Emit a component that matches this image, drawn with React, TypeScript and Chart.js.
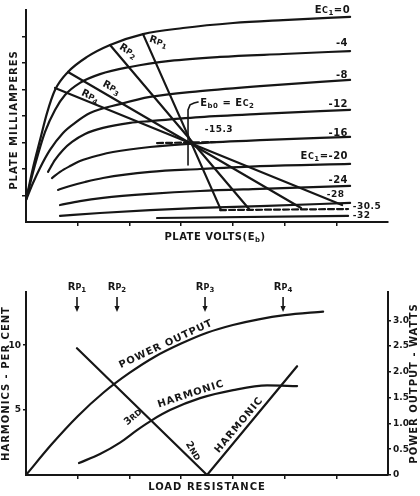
import React, { useEffect, useRef } from 'react';
import { Chart, registerables } from 'chart.js';
Chart.register(...registerables);

// ---------------- Top panel: plate characteristics (grid units: x = plate volts, y = plate mA)
const plateTicksX = [1, 2, 3, 4, 5, 6];
const plateTicksY = [1, 2, 3, 4, 5, 6, 7];

const ec0 = [[0, 0.83], [0.135, 2.04], [0.271, 3.09], [0.406, 4.11], [0.561, 4.98], [0.812, 5.66], [1.18, 6.23], [1.625, 6.68], [2.263, 7.09], [3.037, 7.32], [4.004, 7.51], [4.971, 7.62], [6.267, 7.74]];
const ecM4 = [[0, 0.83], [0.174, 2.15], [0.368, 3.4], [0.561, 4.23], [0.754, 4.79], [1.044, 5.25], [1.431, 5.58], [2.012, 5.85], [2.785, 6.08], [3.752, 6.23], [4.971, 6.34], [6.267, 6.45]];
const ecM8 = [[0, 0.83], [0.135, 1.47], [0.271, 2.04], [0.464, 2.72], [0.716, 3.36], [0.948, 3.74], [1.238, 4.11], [1.818, 4.45], [2.398, 4.72], [3.366, 4.94], [4.526, 5.13], [6.267, 5.36]];
const ecM12 = [[0.426, 1.89], [0.561, 2.34], [0.716, 2.72], [0.89, 3.02], [1.141, 3.32], [1.489, 3.55], [2.012, 3.74], [2.398, 3.81], [3.366, 3.96], [4.526, 4.08], [6.267, 4.23]];
const ecM16 = [[0.503, 1.66], [0.658, 1.89], [0.851, 2.11], [1.044, 2.3], [1.431, 2.53], [1.683, 2.64], [2.398, 2.83], [3.366, 2.98], [4.526, 3.09], [6.267, 3.21]];
const ecM20 = [[0.619, 1.21], [0.851, 1.36], [1.141, 1.51], [1.489, 1.66], [2.398, 1.89], [3.366, 2.0], [4.526, 2.11], [6.267, 2.19]];
const ecM24 = [[0.658, 0.64], [1.044, 0.79], [1.489, 0.91], [2.398, 1.06], [3.366, 1.17], [4.526, 1.25], [6.267, 1.36]];
const ecM28 = [[0.658, 0.23], [1.431, 0.34], [2.398, 0.45], [3.366, 0.53], [4.526, 0.6], [6.267, 0.72]];
const ecM32 = [[2.534, 0.15], [6.228, 0.23]];
const ecM305 = [[3.752, 0.45], [6.228, 0.49]];
const loadRp1 = [[2.263, 7.09], [3.772, 0.45]];
const loadRp2 = [[1.625, 6.68], [4.313, 0.49]];
const loadRp3 = [[0.812, 5.66], [5.319, 0.53]];
const loadRp4 = [[0.561, 5.06], [6.112, 0.64]];
const biasM153 = [[2.534, 2.98], [3.752, 3.02]];
const qLeader = [[3.327, 4.53], [3.25, 4.49], [3.172, 4.42], [3.133, 4.23], [3.133, 2.15]];
const gridVolts = ['0', '-4', '-8', '-12', '-16', '-20', '-24', '-28', '-30.5', '-32'];

// ---------------- Bottom panel: load resistance (grid units), harmonics % (left), watts (right)
const loadTicksX = [1, 2, 3, 4, 5, 6];
const harmonicTicks = [5, 10];
const wattTicks = [0, 0.5, 1, 1.5, 2, 2.5, 3];
const powerOutput = [[0, 0], [0.5, 0.6], [1.0, 1.14], [1.5, 1.6], [2.0, 1.98], [2.5, 2.3], [3.0, 2.55], [3.5, 2.76], [4.0, 2.91], [4.5, 3.02], [5.0, 3.1], [5.745, 3.17]];
const secondHarmonic = [[0.986, 9.77], [3.501, 0], [5.242, 8.38]];
const thirdHarmonic = [[1.025, 0.92], [1.431, 1.62], [1.818, 2.5], [2.147, 3.46], [2.437, 4.23], [2.785, 5.0], [3.366, 5.92], [4.004, 6.54], [4.662, 6.9], [5.242, 6.85]];
const rpMarkers = [0.986, 1.76, 3.462, 4.971];
const rpNames = ['1', '2', '3', '4'];

const INK = '#161616';
const FONT = '"DejaVu Sans", sans-serif';

type Part = { t: string; sub?: boolean; small?: boolean };

function drawRich(ctx: CanvasRenderingContext2D, parts: Part[], x: number, y: number, align: 'left' | 'center' | 'right', rotDeg: number, size: number, spacing = 0) {
  ctx.save();
  ctx.translate(x, y);
  ctx.rotate((rotDeg * Math.PI) / 180);
  ctx.textBaseline = 'middle';
  ctx.textAlign = 'left';
  ctx.fillStyle = INK;
  (ctx as any).letterSpacing = spacing + 'px';
  const f = (p: Part) => `bold ${p.sub ? Math.round(size * 0.72) : p.small ? Math.round(size * 0.82) : size}px ${FONT}`;
  const ws = parts.map((p) => { ctx.font = f(p); return ctx.measureText(p.t).width; });
  const total = ws.reduce((a, b) => a + b, 0);
  let cx = align === 'left' ? 0 : align === 'center' ? -total / 2 : -total;
  parts.forEach((p, i) => {
    ctx.font = f(p);
    ctx.fillText(p.t, cx, p.sub ? size * 0.32 : p.small ? size * 0.06 : 0);
    cx += ws[i];
  });
  ctx.restore();
}

const pts = (a: number[][]) => a.map(([x, y]) => ({ x, y }));
const line = (a: number[][], extra: any = {}) => ({
  data: pts(a), showLine: true, borderColor: INK, borderWidth: 2.2, pointRadius: 0,
  tension: 0, fill: false, borderCapStyle: 'round', ...extra,
});
const curve = (a: number[][], extra: any = {}) => line(a, { cubicInterpolationMode: 'monotone', ...extra });

const axis = (ticks: number[], extra: any) => ({
  type: 'linear',
  afterBuildTicks: (s: any) => { s.ticks = ticks.map((value) => ({ value })); },
  ticks: { display: false },
  grid: { drawOnChartArea: false, drawTicks: true, tickLength: 4, color: INK, lineWidth: 1.5 },
  border: { display: true, color: INK, width: 2 },
  ...extra,
});

const ecLabel = (v: string, full: boolean): Part[] =>
  full ? [{ t: 'E' }, { t: 'C', small: true }, { t: '1', sub: true }, { t: '=' + v }] : [{ t: v }];
const rpLabel = (n: string): Part[] => [{ t: 'R' }, { t: 'P', small: true }, { t: n, sub: true }];

const topPlugin = {
  id: 'topText',
  afterDraw(chart: any) {
    const { ctx, chartArea: a, scales } = chart;
    const X = (v: number) => scales.x.getPixelForValue(v);
    const Y = (v: number) => scales.y.getPixelForValue(v);
    const spots: [number, number, number, 'left' | 'right', boolean, number][] = [
      [0, 6.267, 8.0, 'right', true, 10],
      [1, 6.228, 6.75, 'right', false, 10],
      [2, 6.228, 5.55, 'right', false, 10],
      [3, 6.228, 4.42, 'right', false, 10],
      [4, 6.228, 3.36, 'right', false, 10],
      [5, 6.228, 2.49, 'right', true, 10],
      [6, 6.228, 1.58, 'right', false, 10],
      [7, 6.16, 1.02, 'right', false, 9],
      [8, 6.32, 0.57, 'left', false, 9],
      [9, 6.32, 0.24, 'left', false, 9],
    ];
    spots.forEach(([i, x, y, al, full, sz]) => drawRich(ctx, ecLabel(gridVolts[i], full), X(x), Y(y), al, 0, sz, 0.5));
    drawRich(ctx, rpLabel('1'), X(2.56), Y(6.8), 'center', 18, 10);
    drawRich(ctx, rpLabel('2'), X(1.97), Y(6.45), 'center', 32, 10);
    drawRich(ctx, rpLabel('3'), X(1.65), Y(5.06), 'center', 28, 10);
    drawRich(ctx, rpLabel('4'), X(1.24), Y(4.74), 'center', 26, 10);
    drawRich(ctx, [{ t: 'E' }, { t: 'b0', sub: true }, { t: ' = E' }, { t: 'C', small: true }, { t: '2', sub: true }], X(3.37), Y(4.49), 'left', 0, 10, 0.5);
    drawRich(ctx, [{ t: '-15.3' }], X(3.73), Y(3.47), 'center', 0, 9, 0.5);
    drawRich(ctx, [{ t: 'PLATE MILLIAMPERES' }], a.left - 12, (a.top + a.bottom) / 2 + 4, 'center', -90, 10, 1);
    drawRich(ctx, [{ t: 'PLATE VOLTS(E' }, { t: 'b', sub: true }, { t: ')' }], (a.left + a.right) / 2 + 8, a.bottom + 15, 'center', 0, 10, 0.5);
  },
};

const bottomPlugin = {
  id: 'bottomText',
  afterDraw(chart: any) {
    const { ctx, chartArea: a, scales } = chart;
    const X = (v: number) => scales.x.getPixelForValue(v);
    const Y = (v: number) => scales.y.getPixelForValue(v);
    rpMarkers.forEach((v, i) => {
      const px = X(v);
      drawRich(ctx, rpLabel(rpNames[i]), px, a.top - 5, 'center', 0, 10);
      ctx.save();
      ctx.strokeStyle = INK; ctx.fillStyle = INK; ctx.lineWidth = 1.6;
      ctx.beginPath(); ctx.moveTo(px, a.top + 5); ctx.lineTo(px, a.top + 16); ctx.stroke();
      ctx.beginPath(); ctx.moveTo(px - 2.6, a.top + 14); ctx.lineTo(px + 2.6, a.top + 14); ctx.lineTo(px, a.top + 20); ctx.closePath(); ctx.fill();
      ctx.restore();
    });
    drawRich(ctx, [{ t: 'POWER OUTPUT' }], X(2.708), Y(10.08), 'center', -25, 10, 1);
    drawRich(ctx, [{ t: 'HARMONIC' }], X(3.19), Y(6.23), 'center', -18, 10, 1);
    drawRich(ctx, [{ t: '3' }, { t: 'RD', small: true }], X(2.07), Y(4.46), 'center', -40, 10);
    drawRich(ctx, [{ t: '2' }, { t: 'ND', small: true }], X(3.23), Y(1.85), 'center', 58, 10);
    drawRich(ctx, [{ t: 'HARMONIC' }], X(4.12), Y(3.85), 'center', -50, 10, 1);
    drawRich(ctx, [{ t: 'HARMONICS - PER CENT' }], a.left - 20, (a.top + a.bottom) / 2, 'center', -90, 10, 1);
    drawRich(ctx, [{ t: 'POWER OUTPUT - WATTS' }], a.right + 26, (a.top + a.bottom) / 2, 'center', -90, 10, 1);
    drawRich(ctx, [{ t: 'LOAD RESISTANCE' }], (a.left + a.right) / 2, a.bottom + 12, 'center', 0, 10, 1);
  },
};

const tickFont = { family: FONT, size: 9, weight: 'bold' as const };

function topConfig(): any {
  return {
    type: 'scatter',
    data: {
      datasets: [
        curve(ec0), curve(ecM4), curve(ecM8), curve(ecM12), curve(ecM16), curve(ecM20), curve(ecM24), curve(ecM28),
        line(ecM32), line(ecM305, { borderDash: [6, 3] }),
        line(loadRp1), line(loadRp2), line(loadRp3), line(loadRp4),
        line(biasM153, { borderDash: [6, 3] }), line(qLeader, { borderWidth: 1.6 }),
      ],
    },
    options: {
      animation: false, responsive: false, maintainAspectRatio: false,
      layout: { padding: { top: 10, right: 32, left: 0, bottom: 0 } },
      plugins: { legend: { display: false }, tooltip: { enabled: false } },
      scales: {
        x: axis(plateTicksX, { min: 0, max: 7, afterFit: (s: any) => { s.height = 28; } }),
        y: axis(plateTicksY, { min: 0, max: 8, afterFit: (s: any) => { s.width = 26; } }),
      },
    },
    plugins: [topPlugin],
  };
}

function bottomConfig(): any {
  return {
    type: 'scatter',
    data: {
      datasets: [
        curve(powerOutput, { yAxisID: 'y2' }),
        line(secondHarmonic, { yAxisID: 'y' }),
        curve(thirdHarmonic, { yAxisID: 'y' }),
      ],
    },
    options: {
      animation: false, responsive: false, maintainAspectRatio: false,
      layout: { padding: { top: 42, right: 0, left: 0, bottom: 0 } },
      plugins: { legend: { display: false }, tooltip: { enabled: false } },
      scales: {
        x: axis(loadTicksX, { min: 0, max: 7, afterFit: (s: any) => { s.height = 21; } }),
        y: axis(harmonicTicks, {
          min: 0, max: 14.1, position: 'left',
          ticks: { display: true, font: tickFont, color: INK, padding: 2 },
          grid: { drawOnChartArea: false, drawTicks: true, tickLength: 3, color: INK, lineWidth: 1.5 },
          afterFit: (s: any) => { s.width = 26; },
        }),
        y2: axis(wattTicks, {
          min: 0, max: 3.55, position: 'right',
          ticks: { display: true, font: tickFont, color: INK, padding: 2, callback: (v: any) => (v === 0 ? '0' : Number(v).toFixed(1)) },
          grid: { drawOnChartArea: false, drawTicks: true, tickLength: 3, color: INK, lineWidth: 1.5 },
          afterFit: (s: any) => { s.width = 32; },
        }),
      },
    },
    plugins: [bottomPlugin],
  };
}

export default function App() {
  const topRef = useRef<HTMLCanvasElement>(null);
  const botRef = useRef<HTMLCanvasElement>(null);
  useEffect(() => {
    const c1 = new Chart(topRef.current as HTMLCanvasElement, topConfig());
    const c2 = new Chart(botRef.current as HTMLCanvasElement, bottomConfig());
    return () => { c1.destroy(); c2.destroy(); };
  }, []);
  return (
    <div style={{ position: 'fixed', left: 0, top: 0, width: 420, height: 496, background: '#fff' }}>
      <canvas ref={topRef} width={420} height={250} style={{ position: 'absolute', left: 0, top: 0 }} />
      <canvas ref={botRef} width={420} height={246} style={{ position: 'absolute', left: 0, top: 250 }} />
    </div>
  );
}
